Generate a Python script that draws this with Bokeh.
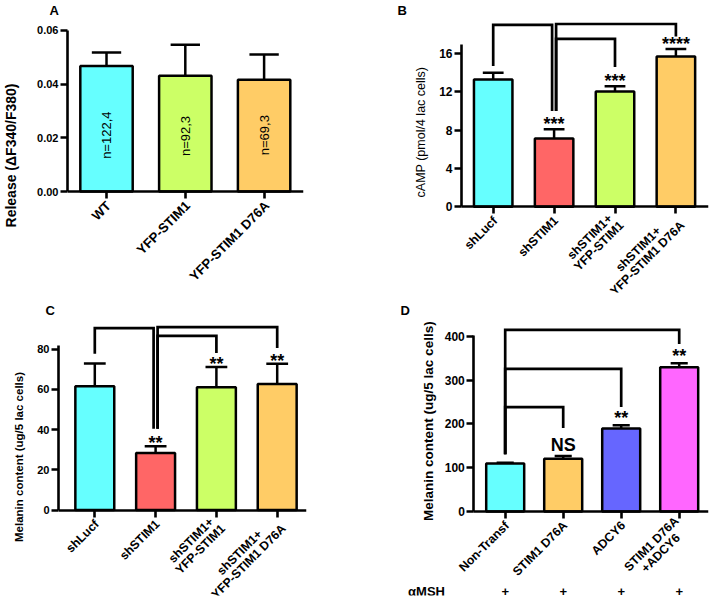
import math
from bokeh.plotting import figure
from bokeh.models import Range1d, FixedTicker, NumeralTickFormatter
from bokeh.layouts import row, column
from bokeh.embed import file_html
from bokeh.resources import INLINE
from bokeh.core.properties import value

FONT = "Liberation Sans"
CYAN, RED, LIME, ORANGE, BLUE, MAGENTA = "#66FFFF", "#FF6666", "#CCFF66", "#FFCC66", "#6666FF", "#FF66FF"

# ---------------- data ----------------
# Panel A
a_cats = ["WT", "YFP-STIM1", "YFP-STIM1 D76A"]
a_mean = [0.0468, 0.0431, 0.0416]
a_sem = [0.0050, 0.0116, 0.0094]
a_n = ["n=122,4", "n=92,3", "n=69,3"]
a_n_y = [0.021, 0.0207, 0.021]
a_colors = [CYAN, LIME, ORANGE]
a_yticks = [0.0, 0.02, 0.04, 0.06]

# Panel B
b_cats = ["shLucf", "shSTIM1", "shSTIM1+\nYFP-STIM1", "shSTIM1+\nYFP-STIM1 D76A"]
b_mean = [13.3, 7.15, 12.05, 15.7]
b_sem = [0.7, 0.95, 0.55, 0.8]
b_sig = ["", "***", "***", "****"]
b_colors = [CYAN, RED, LIME, ORANGE]
b_yticks = [0, 4, 8, 12, 16]
# brackets: (from, to, top level, bottom at "from", bottom at "to")
b_brackets = [(0, 1, 19.0, 14.7, 10.0), (1, 3, 19.1, 10.0, 17.8), (1, 2, 17.55, 10.0, 14.6)]

# Panel C
c_cats = ["shLucf", "shSTIM1", "shSTIM1+\nYFP-STIM1", "shSTIM1+\nYFP-STIM1 D76A"]
c_mean = [61.5, 28.4, 61.0, 62.7]
c_sem = [11.3, 3.3, 10.1, 10.0]
c_sig = ["", "**", "**", "**"]
c_colors = [CYAN, RED, LIME, ORANGE]
c_yticks = [0, 20, 40, 60, 80]
c_brackets = [(0, 1, 90.4, 77.7, 40.4), (1, 3, 90.9, 40.4, 80.5), (1, 2, 86.6, 40.4, 78.0)]

# Panel D
d_cats = ["Non-Transf", "STIM1 D76A", "ADCY6", "STIM1 D76A\n+ADCY6"]
d_mean = [109.5, 120.6, 189.5, 329.5]
d_sem = [2.0, 6.4, 7.5, 9.5]
d_sig = ["", "NS", "**", "**"]
d_colors = [CYAN, ORANGE, BLUE, MAGENTA]
d_yticks = [0, 100, 200, 300, 400]
d_brackets = [(0, 3, 415, 130.7, 382.6), (0, 2, 325.7, 130.7, 238.5), (0, 1, 238.5, 130.7, 191)]
d_treat_name = "\u03b1MSH"
d_treat = ["+", "+", "+", "+"]

# approximate advance widths (em/1000) of a bold Arial-metric font, for centring label lines
_CW = {" ": 278, "+": 584, "-": 333, "/": 278, "1": 556, "6": 556, "7": 556,
       "A": 722, "C": 722, "D": 722, "F": 611, "I": 278, "L": 611, "M": 833, "N": 722,
       "P": 667, "S": 667, "T": 611, "W": 944, "Y": 667, "a": 556, "c": 556, "e": 556,
       "f": 333, "h": 611, "l": 278, "n": 611, "o": 611, "r": 389, "s": 556, "u": 611}


def text_w(s, fs):
    return fs * sum(_CW.get(ch, 600) for ch in s) / 1000.0


def style_axis(ax, size):
    ax.axis_line_width = 2.6
    ax.axis_line_color = "black"
    ax.major_tick_line_width = 2.6
    ax.major_tick_line_color = "black"
    ax.major_tick_out = 7
    ax.major_tick_in = 0
    ax.minor_tick_out = 0
    ax.minor_tick_in = 0
    ax.major_label_text_font = FONT
    ax.major_label_text_font_style = "bold"
    ax.major_label_text_font_size = size
    ax.major_label_text_color = "black"


def make_panel(fig_box, frame_box, first_px, ppx, zero_px, ppy, letter, letter_left):
    fl, ft, fw, fh = fig_box
    L, R, T, B = frame_box
    x0 = 0.5 - (first_px - L) / ppx
    x1 = x0 + (R - L) / ppx
    y0 = -(B - zero_px) / ppy
    y1 = (zero_px - T) / ppy
    p = figure(width=fw, height=fh, x_range=Range1d(x0, x1), y_range=Range1d(y0, y1),
               output_backend="svg", toolbar_location=None,
               min_border_left=L - fl, min_border_right=fl + fw - R,
               min_border_top=T - ft, min_border_bottom=ft + fh - B)
    p.outline_line_color = None
    p.grid.visible = False
    p.background_fill_color = "white"
    p.border_fill_color = "white"
    p.title.text = letter
    p.title.align = "left"
    p.title.offset = letter_left - L
    p.title.standoff = 1
    p.title.text_font = FONT
    p.title.text_font_size = "13px"
    p.title.text_font_style = "bold"
    p.title.text_color = "black"
    X = lambda px: x0 + (px - L) / ppx
    Y = lambda py: (zero_px - py) / ppy
    return p, X, Y


def draw_bars(p, cats, mean, sem, colors, bar_w, cap_frac, ppx, ppy, fs):
    xs = [i + 0.5 for i in range(len(cats))]
    tops = [m + s for m, s in zip(mean, sem)]
    p.vbar(x=xs, top=mean, bottom=0, width=bar_w, fill_color=colors,
           line_color="black", line_width=2.5)
    p.segment(x0=xs, y0=mean, x1=xs, y1=tops, line_color="black", line_width=2.5)
    cw = bar_w * cap_frac / 2
    p.segment(x0=[x - cw for x in xs], y0=tops, x1=[x + cw for x in xs], y1=tops,
              line_color="black", line_width=2.5)
    # x axis placed at y = 0
    xa = p.xaxis[0]
    style_axis(xa, "1px")
    xa.fixed_location = 0
    xa.ticker = FixedTicker(ticks=xs)
    xa.major_label_overrides = {x: "" for x in xs}
    # rotated category labels (lines centred on each other, block ends at the tick)
    c = math.cos(math.pi / 4)
    ls = 1.05 * fs
    lx, ly, lt = [], [], []
    for x, cat in zip(xs, cats):
        lines = cat.split("\n")
        W = max(text_w(s, fs) for s in lines)
        n = len(lines)
        for k, s in enumerate(lines):
            off = (k - (n - 1) / 2) * ls
            dpx = 2 - (W / 2) * c + off * c
            dpy = 12 + (W / 2) * c + off * c
            lx.append(x + dpx / ppx)
            ly.append(-dpy / ppy)
            lt.append(s)
    p.text(x=lx, y=ly, text=lt, angle=math.pi / 4,
           text_font=value(FONT), text_font_style="bold", text_font_size=f"{fs}px",
           text_align="center", text_baseline="middle", text_color="black")
    return xs, tops


def style_y(p, yticks, ybound, size, label=None, label_size="12px", label_style="bold", standoff=10, fmt=None):
    ya = p.yaxis[0]
    style_axis(ya, size)
    ya.ticker = FixedTicker(ticks=yticks)
    ya.bounds = ybound
    ya.major_label_standoff = 2
    if fmt:
        ya.formatter = NumeralTickFormatter(format=fmt)
    if label:
        ya.axis_label = label
        ya.axis_label_text_font = FONT
        ya.axis_label_text_font_size = label_size
        ya.axis_label_text_font_style = label_style
        ya.axis_label_text_color = "black"
        ya.axis_label_standoff = standoff


def side_ylabel(p, X, Y, px, py, text, size, style):
    p.text(x=[X(px)], y=[Y(py)], text=[text], angle=math.pi / 2,
           text_font=value(FONT), text_font_style=style, text_font_size=size,
           text_align="center", text_baseline="middle", text_color="black")


def add_brackets(p, xs, brackets, hub, split):
    bx, by = [], []
    for i, j, top, yi, yj in brackets:
        xi = xs[i] + (split if i == hub else 0)
        xj = xs[j] - (split if j == hub else 0)
        bx.append([xi, xi, xj, xj])
        by.append([yi, top, top, yj])
    p.multi_line(xs=bx, ys=by, line_color="black", line_width=2.7, line_join="miter")


def add_sig(p, xs, tops, sig, ppy, gap_px, size):
    tx, ty, tt = [], [], []
    for x, t, s in zip(xs, tops, sig):
        if not s:
            continue
        g = gap_px - (4 if "*" in s else 0)
        tx.append(x)
        ty.append(t + g / ppy)
        tt.append(s)
    p.text(x=tx, y=ty, text=tt, text_font=value(FONT), text_font_style="bold",
           text_font_size=size, text_align="center", text_baseline="middle", text_color="black")


LAB = 12.3

# ---------------- Panel A ----------------
A_PPX, A_PPY = 80.8, 161.7 / 0.06
pA, XA, YA = make_panel((0, 0, 354, 300), (61, 303, 17, 292), 101, A_PPX, 190.7, A_PPY, "A", 43)
xa, ta = draw_bars(pA, a_cats, a_mean, a_sem, a_colors, 0.665, 0.56, A_PPX, A_PPY, 13.2)
style_y(pA, a_yticks, (0, 0.06), "11px", "Release (\u0394F340/F380)", "14px", "bold", 15, fmt="0.00")
pA.text(x=xa, y=a_n_y, text=a_n, angle=math.pi / 2, text_font=value(FONT),
        text_font_size="13px", text_align="center", text_baseline="middle", text_color="black")

# ---------------- Panel B ----------------
B_PPX, B_PPY = 60.9, 153.7 / 16
pB, XB, YB = make_panel((354, 0, 355, 300), (390, 708, 17, 292), 492.7, B_PPX, 206, B_PPY, "B", 397)
xb, tb = draw_bars(pB, b_cats, b_mean, b_sem, b_colors, 0.632, 0.54, B_PPX, B_PPY, LAB)
style_y(pB, b_yticks, (0, 17), "12px")
b_axis_x = XB(461)
pB.yaxis[0].fixed_location = b_axis_x
pB.xaxis[0].bounds = (b_axis_x, pB.x_range.end)
side_ylabel(pB, XB, YB, 420, 131, "cAMP (pmol/4 lac cells)", "12.5px", "normal")
add_brackets(pB, xb, b_brackets, 1, 2 / B_PPX)
add_sig(pB, xb, tb, b_sig, B_PPY, 9, "18px")

# ---------------- Panel C ----------------
C_PPX, C_PPY = 60.8, 2.02
pC, XC, YC = make_panel((0, 300, 354, 303), (58, 306, 317, 595), 94.3, C_PPX, 509.3, C_PPY, "C", 45)
xc, tc = draw_bars(pC, c_cats, c_mean, c_sem, c_colors, 0.64, 0.56, C_PPX, C_PPY, LAB)
style_y(pC, c_yticks, (0, 82), "11px", "Melanin content (ug/5 lac cells)", "11.5px", "bold", 9)
add_brackets(pC, xc, c_brackets, 1, 2 / C_PPX)
add_sig(pC, xc, tc, c_sig, C_PPY, 7, "18px")

# ---------------- Panel D ----------------
D_PPX, D_PPY = 58.0, 175.7 / 400
pD, XD, YD = make_panel((354, 300, 355, 303), (389, 708, 317, 595), 504.7, D_PPX, 510.7, D_PPY, "D", 400)
xd, td = draw_bars(pD, d_cats, d_mean, d_sem, d_colors, 0.655, 0.45, D_PPX, D_PPY, LAB)
style_y(pD, d_yticks, (0, 403), "12px")
d_axis_x = XD(473.3)
pD.yaxis[0].fixed_location = d_axis_x
pD.xaxis[0].bounds = (d_axis_x, pD.x_range.end)
side_ylabel(pD, XD, YD, 428, 420, "Melanin content (ug/5 lac cells)", "13.5px", "bold")
add_brackets(pD, xd, d_brackets, 0, 0)
add_sig(pD, xd, td, d_sig, D_PPY, 11, "18px")
pD.text(x=[XD(426)] + xd, y=[YD(591)] * 5, text=[d_treat_name] + d_treat,
        text_font=value(FONT), text_font_style="bold", text_font_size="13px",
        text_align="center", text_baseline="middle", text_color="black")

layout = column(row(pA, pB), row(pC, pD))
open("out.html", "w").write(file_html(layout, INLINE))
